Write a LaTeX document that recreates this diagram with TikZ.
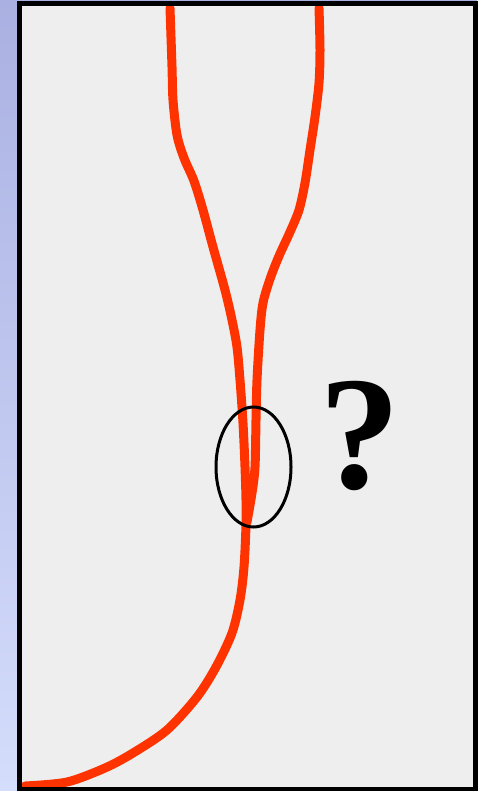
\documentclass[tikz,border=0pt]{standalone}
\usepackage{fontspec}
\setmainfont{Liberation Serif}
\definecolor{stripetop}{HTML}{AAB1E2}
\definecolor{stripebot}{HTML}{D5DDFC}
\definecolor{panelgray}{HTML}{EEEEEE}
\definecolor{strandred}{HTML}{FF3300}
\tikzset{
  strand/.style={strandred, line width=9pt, line cap=round, line join=round},
  zoomring/.style={draw=black, line width=3pt, ellipse, inner sep=0pt, minimum width=75pt, minimum height=120pt},
  asklabel/.style={font=\fontsize{162}{162}\selectfont\bfseries, inner sep=0pt}
}
\usetikzlibrary{shapes.geometric}
\begin{document}
\begin{tikzpicture}[x=1pt, y=-1pt]
  \useasboundingbox (0,0) rectangle (477,791);
  %–– Sfondo ––
  \shade[top color=stripetop, bottom color=stripebot] (0,0) rectangle (477,791);
  \fill[panelgray] (19.5,3.5) rectangle (475.5,789.5);

  %–– Filamento sinistro (fino in basso) ––
  \draw[strand] plot[smooth] coordinates {
    (170,8) (172,67) (173,100) (177,135) (184,158) (194,181) (203,210)
    (213,247) (225,290) (232,320) (237,347) (240,380) (243,423) (245,467)
    (246,500) (246,525) (244,567) (240,600) (232,633) (216,667) (197,697)
    (167,730) (133,753) (105,768) (67,782) (25,786)};
  %–– Filamento destro ––
  \draw[strand] plot[smooth] coordinates {
    (319,8) (320,50) (319,83) (315,117) (310,150) (305,183) (299,210)
    (290,232) (279,256) (270,279) (263,303) (260,330) (257,380) (256,420)
    (255,467) (252,493) (247,522)};

  %–– Bordo esterno ––
  \draw[black, line width=5pt] (19.5,3.5) rectangle (475.5,789.5);

  %–– Etichette ––
  \node[zoomring] (ring) at (253.5,467) {};
  \node[asklabel] (ask) at (360,436) {?};
\end{tikzpicture}
\end{document}
